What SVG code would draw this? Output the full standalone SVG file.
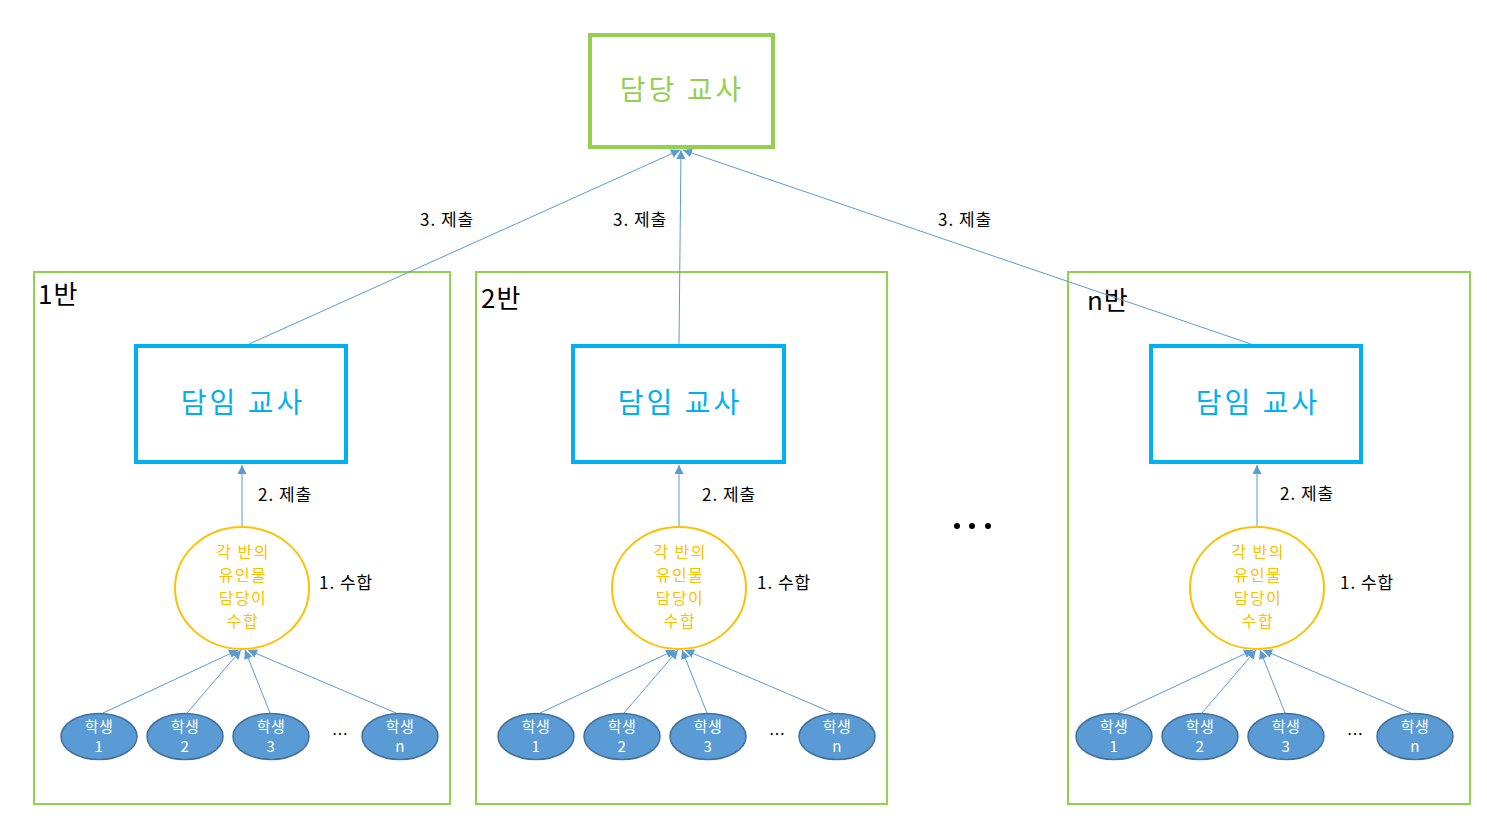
<svg xmlns="http://www.w3.org/2000/svg" width="1487" height="825" viewBox="0 0 1487 825">
<style>
text{font-family:"Noto Sans CJK KR","Noto Sans",sans-serif;}
.cls{fill:none;stroke:#92D050;stroke-width:2;}
.tch{fill:#fff;stroke:#00B0F0;stroke-width:4;}
.tcht{fill:#00B0F0;font-size:28px;text-anchor:middle;letter-spacing:3px;}
.col{fill:#fff;stroke:#FFC000;stroke-width:2;}
.colt{fill:#FFC000;font-size:16px;letter-spacing:1.5px;text-anchor:middle;}
.stu{fill:#5B9BD5;stroke:#41719C;stroke-width:1.5;}
.stut{fill:#fff;font-size:15px;text-anchor:middle;letter-spacing:0.5px;}
.lbl{fill:#000;font-size:17px;letter-spacing:1px;}
.cn{fill:#000;font-size:26px;letter-spacing:1px;}
.ln{stroke:#5B9BD5;stroke-width:1;fill:none;marker-end:url(#ah);}
</style>
<defs>
<marker id="ah" viewBox="0 0 10 10" refX="10" refY="5" markerWidth="9" markerHeight="9" markerUnits="userSpaceOnUse" orient="auto">
<path d="M0,0 L10,5 L0,10 z" fill="#5B9BD5"/>
</marker>
</defs>
<rect width="1487" height="825" fill="#fff"/>

<g id="class1">
<rect class="cls" x="34" y="272" width="416" height="532"/>
<text class="cn" x="38" y="304">1반</text>
</g>
<g id="class2">
<rect class="cls" x="476" y="272" width="411" height="532"/>
<text class="cn" x="481" y="308">2반</text>
</g>
<g id="classn">
<rect class="cls" x="1068" y="272" width="402" height="532"/>
<text class="cn" x="1087" y="310">n반</text>
</g>

<g id="connectors">
<line class="ln" x1="247" y1="345" x2="680" y2="150"/>
<line class="ln" x1="679" y1="345" x2="681" y2="150"/>
<line class="ln" x1="1251" y1="344" x2="683" y2="150"/>
<line class="ln" x1="242" y1="527" x2="242" y2="465"/>
<line class="ln" x1="679" y1="527" x2="679" y2="465"/>
<line class="ln" x1="1257" y1="527" x2="1257" y2="465"/>
<line class="ln" x1="103" y1="713" x2="238" y2="650"/>
<line class="ln" x1="187" y1="713" x2="241" y2="650"/>
<line class="ln" x1="270" y1="713" x2="245" y2="650"/>
<line class="ln" x1="396" y1="713" x2="248" y2="650"/>
<line class="ln" x1="540" y1="713" x2="675" y2="650"/>
<line class="ln" x1="624" y1="713" x2="678" y2="650"/>
<line class="ln" x1="707" y1="713" x2="682" y2="650"/>
<line class="ln" x1="833" y1="713" x2="685" y2="650"/>
<line class="ln" x1="1118" y1="713" x2="1253" y2="650"/>
<line class="ln" x1="1202" y1="713" x2="1256" y2="650"/>
<line class="ln" x1="1285" y1="713" x2="1260" y2="650"/>
<line class="ln" x1="1411" y1="713" x2="1263" y2="650"/>
</g>

<g id="head">
<rect x="590" y="35" width="183" height="112" fill="#fff" stroke="#92D050" stroke-width="4"/>
<text x="682" y="100" fill="#92D050" font-size="28" letter-spacing="3" text-anchor="middle">담당 교사</text>
</g>

<g id="teacher1"><rect class="tch" x="136" y="346" width="210" height="116"/><text class="tcht" x="243" y="413">담임 교사</text></g>
<g id="teacher2"><rect class="tch" x="573" y="346" width="211" height="116"/><text class="tcht" x="680" y="413">담임 교사</text></g>
<g id="teachern"><rect class="tch" x="1151" y="346" width="210" height="116"/><text class="tcht" x="1258" y="413">담임 교사</text></g>

<g id="collect1"><ellipse class="col" cx="242" cy="588" rx="67" ry="61"/>
<text class="colt" x="243" y="558">각 반의</text><text class="colt" x="243" y="581">유인물</text><text class="colt" x="243" y="604">담당이</text><text class="colt" x="243" y="627">수합</text></g>
<g id="collect2"><ellipse class="col" cx="679" cy="588" rx="67" ry="61"/>
<text class="colt" x="680" y="558">각 반의</text><text class="colt" x="680" y="581">유인물</text><text class="colt" x="680" y="604">담당이</text><text class="colt" x="680" y="627">수합</text></g>
<g id="collectn"><ellipse class="col" cx="1257" cy="588" rx="67" ry="61"/>
<text class="colt" x="1258" y="558">각 반의</text><text class="colt" x="1258" y="581">유인물</text><text class="colt" x="1258" y="604">담당이</text><text class="colt" x="1258" y="627">수합</text></g>

<g id="s1_1"><ellipse class="stu" cx="99" cy="736.5" rx="38" ry="23"/><text class="stut" x="99" y="732">학생</text><text class="stut" x="99" y="752">1</text></g>
<g id="s1_2"><ellipse class="stu" cx="185" cy="736.5" rx="38" ry="23"/><text class="stut" x="185" y="732">학생</text><text class="stut" x="185" y="752">2</text></g>
<g id="s1_3"><ellipse class="stu" cx="271" cy="736.5" rx="38" ry="23"/><text class="stut" x="271" y="732">학생</text><text class="stut" x="271" y="752">3</text></g>
<g id="s1_n"><ellipse class="stu" cx="400" cy="736.5" rx="38" ry="23"/><text class="stut" x="400" y="732">학생</text><text class="stut" x="400" y="752">n</text></g>
<text x="340" y="740" font-size="16" text-anchor="middle" fill="#000" font-family="Liberation Sans, sans-serif">…</text>

<g id="s2_1"><ellipse class="stu" cx="536" cy="736.5" rx="38" ry="23"/><text class="stut" x="536" y="732">학생</text><text class="stut" x="536" y="752">1</text></g>
<g id="s2_2"><ellipse class="stu" cx="622" cy="736.5" rx="38" ry="23"/><text class="stut" x="622" y="732">학생</text><text class="stut" x="622" y="752">2</text></g>
<g id="s2_3"><ellipse class="stu" cx="708" cy="736.5" rx="38" ry="23"/><text class="stut" x="708" y="732">학생</text><text class="stut" x="708" y="752">3</text></g>
<g id="s2_n"><ellipse class="stu" cx="837" cy="736.5" rx="38" ry="23"/><text class="stut" x="837" y="732">학생</text><text class="stut" x="837" y="752">n</text></g>
<text x="777" y="740" font-size="16" text-anchor="middle" fill="#000" font-family="Liberation Sans, sans-serif">…</text>

<g id="sn_1"><ellipse class="stu" cx="1114" cy="736.5" rx="38" ry="23"/><text class="stut" x="1114" y="732">학생</text><text class="stut" x="1114" y="752">1</text></g>
<g id="sn_2"><ellipse class="stu" cx="1200" cy="736.5" rx="38" ry="23"/><text class="stut" x="1200" y="732">학생</text><text class="stut" x="1200" y="752">2</text></g>
<g id="sn_3"><ellipse class="stu" cx="1286" cy="736.5" rx="38" ry="23"/><text class="stut" x="1286" y="732">학생</text><text class="stut" x="1286" y="752">3</text></g>
<g id="sn_n"><ellipse class="stu" cx="1415" cy="736.5" rx="38" ry="23"/><text class="stut" x="1415" y="732">학생</text><text class="stut" x="1415" y="752">n</text></g>
<text x="1355" y="740" font-size="16" text-anchor="middle" fill="#000" font-family="Liberation Sans, sans-serif">…</text>

<g id="labels">
<text class="lbl" x="420" y="226">3. 제출</text>
<text class="lbl" x="613" y="226">3. 제출</text>
<text class="lbl" x="938" y="226">3. 제출</text>
<text class="lbl" x="258" y="501">2. 제출</text>
<text class="lbl" x="702" y="501">2. 제출</text>
<text class="lbl" x="1280" y="500">2. 제출</text>
<text class="lbl" x="319" y="589">1. 수합</text>
<text class="lbl" x="757" y="589">1. 수합</text>
<text class="lbl" x="1340" y="589">1. 수합</text>
</g>
<g id="dots" fill="#000">
<circle cx="957" cy="526" r="3"/><circle cx="972" cy="526" r="3"/><circle cx="988" cy="526" r="3"/>
</g>
</svg>
